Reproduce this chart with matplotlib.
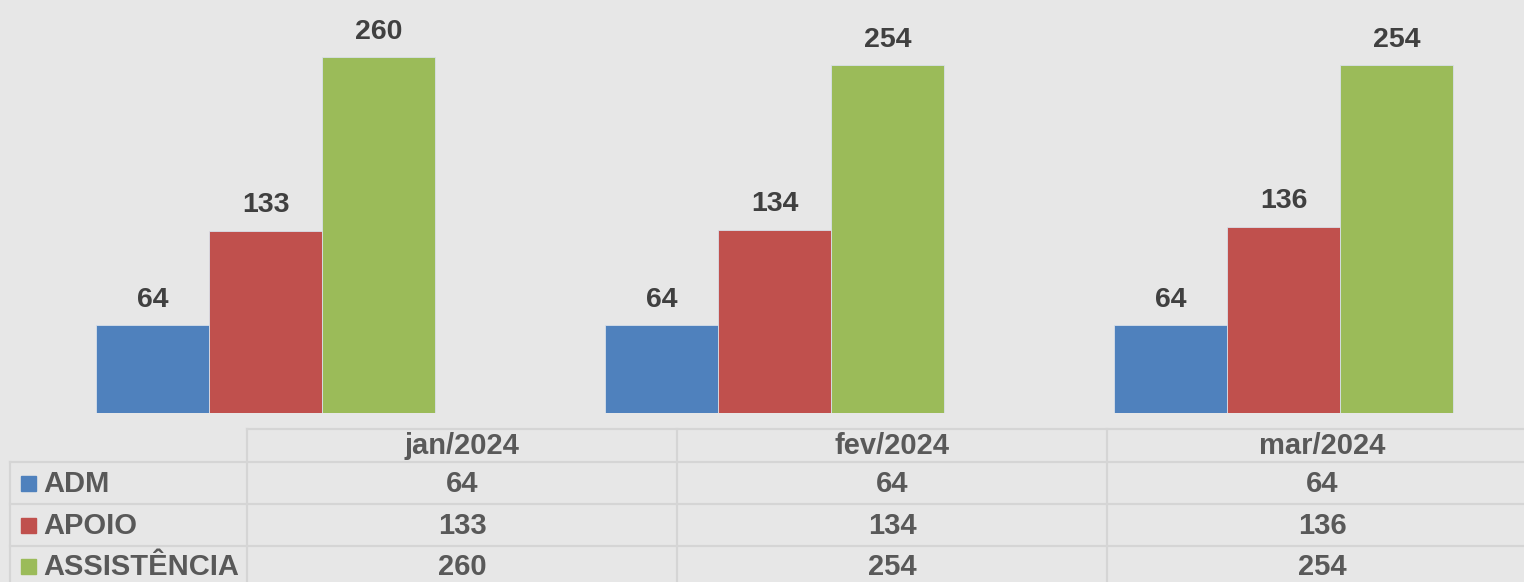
import matplotlib.pyplot as plt
import numpy as np

plt.rcParams['font.family'] = ['Liberation Sans', 'DejaVu Sans']

months = ['jan/2024', 'fev/2024', 'mar/2024']
series = ['ADM', 'APOIO', 'ASSISTÊNCIA']
adm = [64, 64, 64]
apoio = [133, 134, 136]
assistencia = [260, 254, 254]
colors = ['#4f81bd', '#c0504d', '#9bbb59']

W, H = 1524, 582
bg = '#e7e7e7'
fig = plt.figure(figsize=(W / 100, H / 100), dpi=100, facecolor=bg)

# bar area (pixel layout -> figure fractions)
base_px = 413
ax = fig.add_axes([0, 1 - base_px / H, 1, base_px / H - 0.004])
ax.set_facecolor('none')
x = np.arange(len(months))
bw = 0.222
for i, vals in enumerate([adm, apoio, assistencia]):
    bars = ax.bar(x + (i - 1) * bw, vals, bw, color=colors[i],
                  edgecolor='#d8e0ea', linewidth=0.6, label=series[i])
    ax.bar_label(bars, padding=9, fontsize=20.5, fontweight='bold', color='#404040')
c0 = 265.5
step = 509
ax.set_xlim(-c0 / step, (W - c0) / step)
ax.set_ylim(0, 300)
ax.axis('off')

# data table below
tab = fig.add_axes([0, 0, 1, 1])
tab.set_xlim(0, W)
tab.set_ylim(H, 0)
tab.axis('off')
tab.patch.set_alpha(0)

col_edges = [10, 247, 677, 1107, 1537]
row_edges = [429, 462, 504, 546, 588]
line_c = '#d5d5d5'
lw = 1.6
tab.plot([col_edges[1], W], [row_edges[0]] * 2, color=line_c, lw=lw)
for y in row_edges[1:]:
    tab.plot([col_edges[0], W], [y, y], color=line_c, lw=lw)
tab.plot([col_edges[0]] * 2, [row_edges[1], H], color=line_c, lw=lw)
for xe in col_edges[1:]:
    tab.plot([xe, xe], [row_edges[0], H], color=line_c, lw=lw)

txt_c = '#595959'
fs = 21
for j, m in enumerate(months):
    xc = (col_edges[j + 1] + col_edges[j + 2]) / 2
    tab.text(xc, (row_edges[0] + row_edges[1]) / 2 + 1, m, ha='center', va='center',
             fontsize=fs, fontweight='bold', color=txt_c)
for i, (name, vals) in enumerate(zip(series, [adm, apoio, assistencia])):
    yc = (row_edges[i + 1] + row_edges[i + 2]) / 2
    if i == 2:
        yc = 566
    tab.add_patch(plt.Rectangle((21, yc - 7), 15, 15, color=colors[i]))
    tab.text(43, yc + 1, name, ha='left', va='center', fontsize=fs,
             fontweight='bold', color=txt_c)
    for j, v in enumerate(vals):
        xc = (col_edges[j + 1] + col_edges[j + 2]) / 2
        tab.text(xc, yc + 1, str(v), ha='center', va='center', fontsize=fs,
                 fontweight='bold', color=txt_c)

fig.savefig('out.png', dpi=100, facecolor=bg)
